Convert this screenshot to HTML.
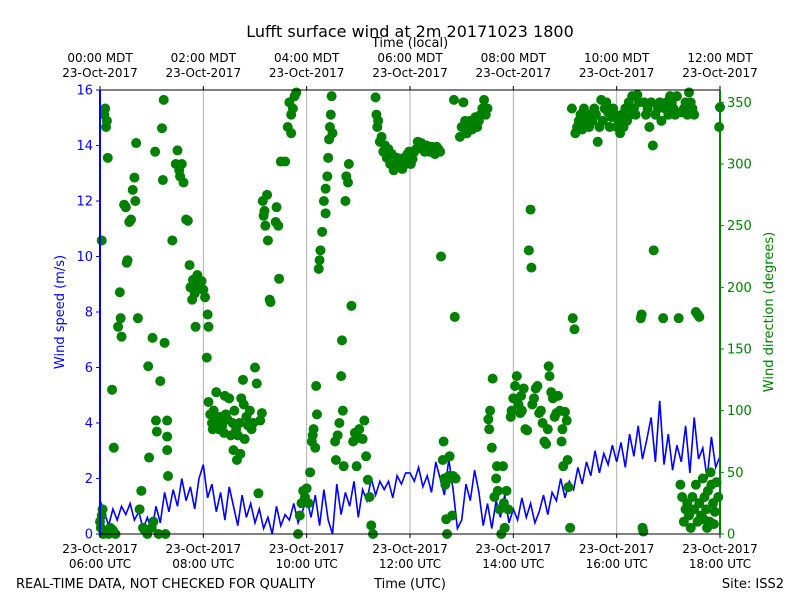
<!DOCTYPE html>
<html><head><meta charset="utf-8"><style>
body{margin:0;background:#fff;font-family:"Liberation Sans","DejaVu Sans",sans-serif}
svg text{font-family:"DejaVu Sans","Liberation Sans",sans-serif}
</style></head><body>
<svg id="chart" width="800" height="600" xmlns="http://www.w3.org/2000/svg">
<rect width="800" height="600" fill="#fff"/>
<text x="410" y="37" font-size="16" text-anchor="middle">Lufft surface wind at 2m 20171023 1800</text>
<text x="410" y="47" font-size="13" text-anchor="middle">Time (local)</text>
<text transform="translate(64,312) rotate(-90)" font-size="13" fill="blue" text-anchor="middle">Wind speed (m/s)</text>
<text transform="translate(773,312) rotate(-90)" font-size="13" fill="green" text-anchor="middle">Wind direction (degrees)</text>
<text x="16" y="588" font-size="13">REAL-TIME DATA, NOT CHECKED FOR QUALITY</text>
<text x="410" y="588" font-size="13" text-anchor="middle">Time (UTC)</text>
<text x="784" y="588" font-size="13" text-anchor="end">Site: ISS2</text>
<g id="grid"></g><g id="speed"></g><g id="dirs"></g><g id="axes"></g>
</svg>
<script>
const bottomTicks=["06:00","08:00","10:00","12:00","14:00","16:00","18:00"];
const topTicks=["00:00","02:00","04:00","06:00","08:00","10:00","12:00"];
const speedTicks=[0,2,4,6,8,10,12,14,16];
const dirTicks=[0,50,100,150,200,250,300,350];
const speedStepMin=5;
const speedValues=[1.2,0.8,0.3,0.9,0.5,1.0,0.7,1.1,0.5,0.8,0.2,0.6,
0.1,1.0,0.4,1.5,0.8,1.6,1.0,2.0,1.2,1.7,0.9,2.0,
2.5,1.3,1.8,0.8,1.5,0.5,1.7,1.0,0.3,1.4,0.6,1.1,
0.4,0.9,0.2,0.6,0.0,1.0,0.3,0.7,0.5,1.1,0.4,0.8,
1.3,0.6,1.4,0.3,1.6,0.5,0.0,1.8,0.7,1.5,1.0,1.9,
0.6,1.6,1.2,2.0,1.4,1.9,1.6,1.9,1.3,2.1,1.8,2.2,
2.2,1.9,2.4,1.7,2.1,1.5,2.6,2.0,1.4,2.7,1.6,0.2,
0.5,1.8,1.2,2.3,1.5,0.3,1.1,0.2,1.2,0.6,1.4,0.4,
0.9,0.5,1.3,0.6,1.1,0.4,0.8,1.4,0.7,1.5,1.2,2.0,
1.3,1.9,1.6,2.4,1.8,2.6,2.1,3.0,2.2,2.9,2.5,3.2,
2.6,3.3,2.4,3.6,2.8,3.9,2.7,3.4,4.2,2.6,4.8,2.5,
3.6,2.3,3.2,2.6,3.9,2.2,4.2,2.7,3.1,2.0,3.5,2.4,2.8];
const dirPoints=[[1,5],[2,15],[3,20],[0,10],[4,0],[2,238],[5,340],[6,345],[7,330],[8,335],[9,305],[14,117],[16,70],[10,0],[12,5],[15,3],[18,0],
[21,168],[23,196],[24,175],[25,160],[28,267],[31,220],[32,222],[34,253],[38,279],[40,289],[41,270],[42,317],[36,255],[30,265],
[44,175],[46,20],[48,35],[50,5],[56,136],[57,62],[61,159],[64,310],[65,92],[66,83],[70,124],[72,329],[73,287],[74,352],[75,155],[78,92],[78,79],[78,68],[79,47],[55,0],[60,5],[62,10],[68,0],[76,0],[52,3],
[84,238],[88,300],[90,311],[92,295],[93,290],[95,300],[97,285],[100,255],[102,254],[104,218],[105,200],[108,206],[107,190],[110,195],[111,168],[113,210],[114,200],
[118,205],[120,198],[122,192],[124,143],[125,178],[126,168],[126,107],[128,97],[130,90],[131,85],[132,100],[134,95],[136,92],[138,85],[140,95],[142,88],[144,82],[146,97],[148,93],[150,110],[152,80],[154,90],[156,100],[158,85],[160,80],[162,90],[164,110],[166,125],[167,105],[168,77],[135,115],[145,112],[155,68],[159,60],[163,65],
[170,95],[172,88],[174,100],[176,85],[178,90],[180,135],[182,122],[184,33],[186,92],[188,98],
[189,270],[190,258],[191,262],[192,250],[194,275],[195,238],[197,190],[198,188],[204,253],[205,265],[207,250],[208,207],[210,302],
[215,302],[218,330],[220,350],[222,340],[224,345],[226,355],[228,358],[222,325],[230,0],
[232,15],[234,25],[236,35],[238,30],[240,37],[242,25],[244,50],[246,75],[247,80],[248,85],[250,70],[251,120],[252,97],[254,215],[255,222],
[256,230],[258,245],[260,270],[262,280],[264,290],[265,305],[266,320],[267,330],[268,340],[269,355],[270,325],[262,260],
[273,75],[274,60],[276,80],[278,90],[280,128],[281,157],[282,100],[283,55],[285,270],[286,290],[288,285],[289,300],[292,185],[294,75],[296,82],[298,55],[300,78],[301,85],
[305,77],[307,92],[309,63],[311,44],[313,30],[315,7],[317,0],
[320,354],[321,340],[322,330],[323,335],[325,318],[327,322],[329,310],[331,315],[333,305],[335,312],[337,300],[339,308],[341,295],[343,300],[345,305],[347,298],[349,302],[351,296],[353,305],[355,300],[357,308],[359,310],[361,300],[363,304],[365,310],
[367,312],[369,318],[371,315],[373,317],[375,312],[377,310],[379,315],[381,313],[383,310],[385,314],[387,312],[389,308],[391,314],[393,312],[395,310],[396,225],[398,60],[399,75],[400,45],
[401,40],[402,12],[403,0],[405,47],[406,63],[407,45],[409,15],[411,352],[412,176],[413,45],[410,47],
[418,322],[420,330],[422,350],[424,335],[426,325],[428,330],[430,335],[432,328],[434,332],[436,338],[438,330],[440,335],[442,340],[444,345],[446,352],[448,340],[450,345],
[451,93],[452,85],[453,100],[455,70],[456,126],[458,30],[460,45],[461,55],[462,35],[464,20],[466,0],[468,55],[469,25],[470,5],[472,35],[474,20],
[477,95],[478,100],[480,110],[482,120],[484,128],[486,105],[488,98],[489,112],[490,100],[492,118],[494,85],[496,84],[498,230],[500,263],[501,216],[502,105],[504,110],[506,118],[508,120],[510,98],[512,100],[514,90],[516,75],
[518,73],[520,85],[521,136],[522,128],[524,115],[526,110],[528,95],[530,98],[532,112],[534,100],[536,75],[538,55],[540,99],[542,92],[543,60],[544,38],[546,5],[537,85],
[548,345],[549,175],[551,166],[552,325],[554,330],[556,335],[558,340],[560,328],[562,345],[564,332],[566,338],[568,330],[570,340],[572,335],[574,345],[576,340],[578,318],[580,330],[582,352],[584,335],[586,345],[588,350],[590,342],[592,330],[594,338],[596,345],[598,340],
[600,330],[602,335],[604,325],[606,340],[608,330],[610,345],[612,335],[614,350],[616,340],[618,355],[620,345],[622,340],[624,356],[626,350],[628,175],[629,178],[630,5],[631,2],[632,350],[634,340],
[636,345],[638,330],[640,350],[642,315],[643,230],[645,340],[648,345],[650,350],[652,335],[654,175],[656,345],[658,350],[660,340],[662,355],[664,350],[666,345],[668,340],[670,355],[672,175],[675,342],[678,345],[680,350],[682,340],[684,358],[686,350],[688,345],[690,340],[692,180],[694,178],[696,176],
[674,40],[676,30],[678,10],[680,20],[682,25],[684,15],[686,5],[688,30],[690,20],[692,40],[694,10],[696,25],[698,15],[700,45],[702,30],[704,20],[706,35],[708,10],[710,40],[712,25],[714,18],[716,42],[718,30],[719,330],[720,346],[701,12],[705,5],[709,50],[713,8]];

const NS="http://www.w3.org/2000/svg";
const L=100,R=720,T=90,B=534;
const xOf=m=>L+(R-L)*m/720;
const ySpd=v=>B-(B-T)*v/16;
const yDir=d=>B-(B-T)*d/360;
function mk(tag,attrs,parent,txt){const e=document.createElementNS(NS,tag);for(const k in attrs)e.setAttribute(k,attrs[k]);if(txt!==undefined)e.textContent=txt;parent.appendChild(e);return e;}
const grid=document.getElementById('grid'),axes=document.getElementById('axes'),sp=document.getElementById('speed'),dg=document.getElementById('dirs');
bottomTicks.forEach((t,i)=>{
  const x=xOf(i*120);
  if(i>0&&i<bottomTicks.length-1){const g=mk('line',{x1:x,x2:x,y1:T,y2:B,stroke:'#b0b0b0','stroke-width':1},grid);
  
  }
  mk('line',{x1:x,x2:x,y1:B,y2:B+4,stroke:'#000'},axes);
  const a=mk('text',{x:x,y:553,'font-size':12,'text-anchor':'middle'},axes,'23-Oct-2017');
  
  
  const b=mk('text',{x:x,y:568,'font-size':12,'text-anchor':'middle'},axes,t+' UTC');
  
  
  mk('line',{x1:x,x2:x,y1:T,y2:T-4,stroke:'#000'},axes);
  const c=mk('text',{x:x,y:62,'font-size':12,'text-anchor':'middle'},axes,topTicks[i]+' MDT');
  
  
  const d=mk('text',{x:x,y:77,'font-size':12,'text-anchor':'middle'},axes,'23-Oct-2017');
  
  
});
let pts=speedValues.map((v,i)=>xOf(i*speedStepMin).toFixed(1)+','+ySpd(v).toFixed(1)).join(' ');
const pl=mk('polyline',{points:pts,fill:'none',stroke:'blue','stroke-width':1.6},sp);


dirPoints.forEach(p=>{
  const c=mk('circle',{cx:xOf(p[0]),cy:yDir(p[1]),r:5,fill:'green'},dg);
  
  
});
mk('rect',{x:L,y:T,width:R-L,height:B-T,fill:'none',stroke:'#000','stroke-width':1},axes);
const ls=mk('line',{x1:L,x2:L,y1:T,y2:B,stroke:'blue','stroke-width':2},axes);


const rs=mk('line',{x1:R,x2:R,y1:T,y2:B,stroke:'green','stroke-width':2},axes);


speedTicks.forEach(v=>{const y=ySpd(v);mk('line',{x1:L-4,x2:L,y1:y,y2:y,stroke:'blue'},axes);
  const t=mk('text',{x:L-7,y:y+4.5,'font-size':13,'text-anchor':'end',fill:'blue'},axes,String(v));
  
  });
dirTicks.forEach(v=>{const y=yDir(v);mk('line',{x1:R,x2:R+4,y1:y,y2:y,stroke:'green'},axes);
  const t=mk('text',{x:R+7,y:y+4.5,'font-size':13,fill:'green'},axes,String(v));
  
  });
</script>
</body></html>
